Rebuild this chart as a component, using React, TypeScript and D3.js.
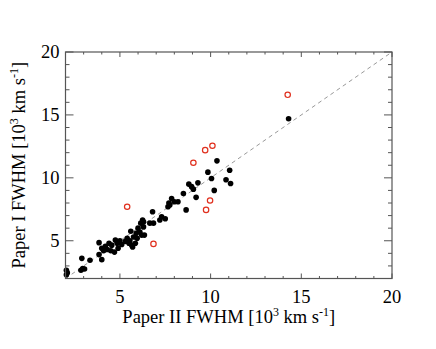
import React from "react";
import * as d3 from "d3";

const filledX = [2.05, 2.05, 2.1, 2.85, 2.95, 3.05, 2.9, 3.35, 3.85, 3.85, 4.0, 4.0, 4.1, 4.2, 4.3, 4.4, 4.5, 4.55, 4.7, 4.75, 4.85, 4.9, 5.0, 5.1, 5.3, 5.4, 5.5, 5.55, 5.6, 5.65, 5.7, 5.75, 5.85, 5.9, 5.95, 6.0, 6.1, 6.15, 6.2, 6.25, 6.3, 6.35, 6.3, 6.65, 6.8, 6.85, 7.2, 7.3, 7.5, 7.65, 7.7, 7.75, 7.85, 8.0, 8.2, 8.5, 8.65, 8.8, 8.95, 9.05, 9.2, 9.3, 9.85, 10.05, 10.2, 10.35, 10.85, 11.05, 11.1, 14.3];
const filledY = [2.3, 2.65, 2.45, 2.65, 2.8, 2.75, 3.6, 3.45, 4.85, 3.9, 3.5, 4.4, 4.2, 4.55, 4.3, 4.8, 4.2, 4.65, 4.1, 5.05, 4.8, 4.4, 5.0, 4.7, 4.95, 5.2, 4.8, 5.0, 5.75, 4.65, 4.5, 5.3, 4.8, 5.6, 5.2, 6.0, 5.7, 6.4, 5.45, 6.65, 6.1, 5.45, 6.5, 6.4, 7.3, 6.4, 6.65, 6.9, 6.75, 7.7, 8.0, 7.85, 8.35, 8.1, 8.1, 8.75, 7.45, 9.5, 9.3, 9.1, 8.45, 9.6, 10.45, 9.95, 9.0, 11.35, 9.85, 10.6, 9.55, 14.7];
const openX = [5.4, 6.85, 9.05, 9.7, 10.1, 9.97, 9.75, 14.25];
const openY = [7.7, 4.75, 11.2, 12.2, 12.55, 8.2, 7.45, 16.6];
const majorTicks = [5, 10, 15, 20];
const minorTicks = d3.range(2, 21, 1);
const domain: [number, number] = [2, 20];

const L = 65.5, R = 392, T = 52, B = 278.5;
const frameColor = "#555";
const font = "'Liberation Serif', 'Times New Roman', serif";
const fs = 18.5;
const sup = 12;

export default function App() {
  const x = d3.scaleLinear().domain(domain).range([L, R]);
  const y = d3.scaleLinear().domain(domain).range([B, T]);
  const minor = minorTicks.filter((t) => !majorTicks.includes(t));
  return (
    <svg width={436} height={349} style={{ position: "absolute", left: 0, top: 0, background: "#fff" }}>
      <line x1={x(2)} y1={y(2)} x2={x(20)} y2={y(20)} stroke="#999" strokeWidth={1} strokeDasharray="4,3.5" />
      {filledX.map((v, i) => (
        <circle key={"f" + i} cx={x(v)} cy={y(filledY[i])} r={2.8} fill="#000" />
      ))}
      {openX.map((v, i) => (
        <circle key={"o" + i} cx={x(v)} cy={y(openY[i])} r={2.7} fill="none" stroke="#e0301e" strokeWidth={1.2} />
      ))}
      <rect x={L} y={T} width={R - L} height={B - T} fill="none" stroke={frameColor} strokeWidth={1.2} />
      {majorTicks.map((t) => (
        <g key={"xm" + t}>
          <line x1={x(t)} x2={x(t)} y1={B} y2={B - 5} stroke={frameColor} />
          <line x1={x(t)} x2={x(t)} y1={T} y2={T + 5} stroke={frameColor} />
          <line x1={L} x2={L + 8} y1={y(t)} y2={y(t)} stroke={frameColor} />
          <line x1={R} x2={R - 8} y1={y(t)} y2={y(t)} stroke={frameColor} />
        </g>
      ))}
      {minor.map((t) => (
        <g key={"xn" + t}>
          <line x1={x(t)} x2={x(t)} y1={B} y2={B - 2.5} stroke={frameColor} />
          <line x1={x(t)} x2={x(t)} y1={T} y2={T + 2.5} stroke={frameColor} />
          <line x1={L} x2={L + 4} y1={y(t)} y2={y(t)} stroke={frameColor} />
          <line x1={R} x2={R - 4} y1={y(t)} y2={y(t)} stroke={frameColor} />
        </g>
      ))}
      {majorTicks.map((t) => (
        <text key={"xl" + t} x={x(t)} y={303} textAnchor="middle" fontFamily={font} fontSize={fs} fill="#000">
          {t}
        </text>
      ))}
      {majorTicks.map((t) => (
        <text key={"yl" + t} x={59.5} y={y(t) + 6} textAnchor="end" fontFamily={font} fontSize={fs} fill="#000">
          {t}
        </text>
      ))}
      <text x={(L + R) / 2} y={323} textAnchor="middle" fontFamily={font} fontSize={fs} fill="#000">
        Paper II FWHM [10<tspan fontSize={sup} dy={-7}>3</tspan>
        <tspan dy={7}> km s</tspan>
        <tspan fontSize={sup} dy={-7}>-1</tspan>
        <tspan dy={7}>]</tspan>
      </text>
      <text transform={`translate(25,${(T + B) / 2}) rotate(-90)`} textAnchor="middle" fontFamily={font} fontSize={fs} fill="#000">
        Paper I FWHM [10<tspan fontSize={sup} dy={-7}>3</tspan>
        <tspan dy={7}> km s</tspan>
        <tspan fontSize={sup} dy={-7}>-1</tspan>
        <tspan dy={7}>]</tspan>
      </text>
    </svg>
  );
}
